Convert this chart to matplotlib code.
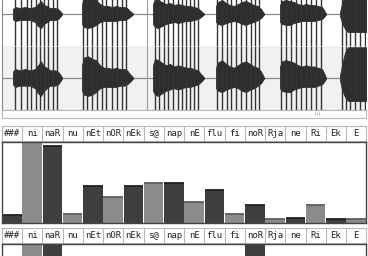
import matplotlib.pyplot as plt

W, H = 368, 256

# segment labels (one cell per segment)
labels = ["###", "ni", "naR", "nu", "nEt", "nOR", "nEk", "s@", "nap",
          "nE", "flu", "fi", "noR", "Rja", "ne", "Ri", "Ek", "E"]

# scores per segment, first and second panel (0..1 = panel height)
scores_a = [0.095, 1.05, 0.94, 0.10, 0.45, 0.31, 0.445, 0.49, 0.485,
            0.25, 0.40, 0.10, 0.21, 0.045, 0.05, 0.21, 0.045, 0.045]
scores_b = [0.10, 1.05, 1.05, 0.10, 0.35, 0.20, 0.30, 0.40, 0.45,
            0.20, 0.30, 0.10, 1.05, 0.05, 0.05, 0.20, 0.05, 0.05]

# waveform envelope of each speech burst: time (s), upper and lower amplitude
b1_t = [0.13, 0.15, 0.20, 0.25, 0.30, 0.35, 0.38, 0.41, 0.44, 0.47, 0.50, 0.55, 0.58, 0.60, 0.62]
b1_up = [5, 7, 6, 7, 6, 7, 10, 13, 9, 8, 6, 6, 5, 3, 0.5]
b1_lo = [5, 7, 6, 6, 6, 8, 12, 14, 10, 8, 6, 6, 5, 3, 0.5]

b2_t = [0.82, 0.84, 0.88, 0.92, 0.96, 1.00, 1.04, 1.08, 1.12, 1.16, 1.20, 1.24, 1.27, 1.30, 1.33]
b2_up = [10, 16, 17, 15, 14, 10, 8, 8, 7, 8, 7, 7, 6, 3, 0.5]
b2_lo = [10, 13, 14, 13, 11, 8, 7, 7, 7, 7, 6, 6, 5, 3, 0.5]

b3_t = [1.53, 1.55, 1.58, 1.62, 1.66, 1.70, 1.74, 1.78, 1.82, 1.86, 1.90, 1.94, 1.98, 2.01, 2.04]
b3_up = [10, 15, 14, 12, 10, 11, 9, 10, 9, 8, 8, 7, 6, 3, 0.5]
b3_lo = [10, 13, 14, 12, 10, 9, 8, 9, 8, 7, 7, 6, 5, 3, 0.5]

b4_t = [2.16, 2.18, 2.22, 2.26, 2.30, 2.34, 2.38, 2.42, 2.46, 2.50, 2.54, 2.58, 2.61, 2.64]
b4_up = [8, 12, 14, 11, 9, 8, 10, 12, 13, 11, 9, 8, 5, 0.5]
b4_lo = [8, 10, 11, 9, 8, 7, 8, 10, 11, 9, 8, 6, 4, 0.5]

b5_t = [2.80, 2.82, 2.86, 2.90, 2.94, 2.98, 3.02, 3.06, 3.10, 3.14, 3.18, 3.22, 3.24, 3.26]
b5_up = [9, 13, 14, 13, 12, 10, 9, 10, 9, 9, 8, 7, 4, 0.5]
b5_lo = [8, 10, 11, 11, 9, 8, 7, 7, 7, 7, 6, 5, 3, 0.5]

b6_t = [3.40, 3.42, 3.45, 3.48, 3.52, 3.56, 3.60, 3.66, 3.70]
b6_up = [2, 10, 20, 24, 24, 24, 24, 24, 24]
b6_lo = [2, 9, 15, 18, 18, 18, 18, 18, 18]

# pitch marks (s)
marks = [0.15, 0.21, 0.27, 0.31, 0.36, 0.40, 0.44, 0.48, 0.53, 0.57,
         0.83, 0.87, 0.92, 0.97, 1.02, 1.06, 1.12, 1.17, 1.22, 1.26,
         1.55, 1.59, 1.64, 1.68, 1.73, 1.78, 1.82, 1.86, 1.90, 1.94, 1.98,
         2.17, 2.22, 2.27, 2.31, 2.36, 2.41, 2.46, 2.51, 2.55, 2.59,
         2.81, 2.86, 2.91, 2.96, 3.01, 3.06, 3.11, 3.16, 3.21,
         3.42, 3.46, 3.50, 3.55, 3.60, 3.65]
boundaries = [1.47]
grip = [3.15, 3.17, 3.19]

bursts = [(b1_t, b1_up, b1_lo), (b2_t, b2_up, b2_lo), (b3_t, b3_up, b3_lo),
          (b4_t, b4_up, b4_lo), (b5_t, b5_up, b5_lo), (b6_t, b6_up, b6_lo)]

X0, X1 = 1.8, 366.3
T0, T1 = X0 / 100, X1 / 100
DARK, LIGHT = "#3e3e3e", "#8c8c8c"
EDGE_DARK, EDGE_LIGHT = "#222222", "#5e5e5e"

fig = plt.figure(figsize=(W / 100, H / 100), dpi=100)


def px_axes(x0, y0, x1, y1):
    return fig.add_axes([x0 / W, 1 - y1 / H, (x1 - x0) / W, (y1 - y0) / H])


def draw_channel(ax, bg, full_scale):
    ax.set_facecolor(bg)
    ax.axhline(0, color="#8a8a8a", lw=0.9, zorder=0.5)
    for t, up, lo in bursts:
        ax.fill_between(t, up, [-v for v in lo], color="#2e2e2e", lw=0.6)
    ax.vlines(marks, -full_scale, full_scale, color="#333333", lw=1.0)
    ax.vlines(boundaries, -full_scale, full_scale, color="#9a9a9a", lw=0.8)
    ax.set_xlim(T0, T1)
    ax.set_ylim(-full_scale, full_scale)
    ax.set_xticks([])
    ax.set_yticks([])
    for s in ax.spines.values():
        s.set_visible(False)
    ax.spines["left"].set_visible(True)
    ax.spines["left"].set_color("#888888")


# waveform, two channels (upper channel partly above the visible area)
ch1 = px_axes(X0, -18, X1, 46)
draw_channel(ch1, "white", 32)
ch2 = px_axes(X0, 46, X1, 110)
draw_channel(ch2, "#f1f1f1", 25)
ch2.spines["bottom"].set_visible(True)
ch2.spines["bottom"].set_color("#777777")

# scroll strip
strip = px_axes(X0, 110, X1, 117.5)
strip.set_xlim(T0, T1)
strip.set_ylim(0, 1)
strip.vlines(grip, 0.3, 0.7, color="#b5b5b5", lw=0.6)
strip.set_xticks([])
strip.set_yticks([])
for s in strip.spines.values():
    s.set_color("#b8b8b8")
    s.set_linewidth(0.8)


def label_row(y0, y1):
    ax = px_axes(X0, y0, X1, y1)
    ax.set_xlim(-0.5, len(labels) - 0.5)
    ax.set_ylim(0, 1)
    for i in range(1, len(labels)):
        ax.axvline(i - 0.5, color="#b8b8b8", lw=0.8)
    for i, lab in enumerate(labels):
        ax.text(i, 0.47, lab, ha="center", va="center", fontsize=6.5,
                family="DejaVu Sans Mono", color="#222222")
    ax.set_xticks([])
    ax.set_yticks([])
    for s in ax.spines.values():
        s.set_color("#b8b8b8")
        s.set_linewidth(0.8)
    return ax


def bar_panel(y0, y1, values):
    ax = px_axes(X0, y0, X1, y1)
    xs = list(range(len(values)))
    cols = [DARK if i % 2 == 0 else LIGHT for i in xs]
    edges = [EDGE_DARK if i % 2 == 0 else EDGE_LIGHT for i in xs]
    ax.bar(xs, values, width=0.96, color=cols, lw=0)
    ax.hlines(values, [x - 0.48 for x in xs], [x + 0.48 for x in xs],
              colors=edges, lw=1.3)
    ax.set_xlim(-0.5, len(values) - 0.5)
    ax.set_ylim(0, 1)
    ax.set_xticks([])
    ax.set_yticks([])
    for s in ax.spines.values():
        s.set_color("#444444")
        s.set_linewidth(1.0)
    return ax


label_row(126, 141)
bar_panel(141.5, 222.5, scores_a)
label_row(228, 243)
bar_panel(243.5, 324.5, scores_b)

fig.savefig("out.png", dpi=100)
